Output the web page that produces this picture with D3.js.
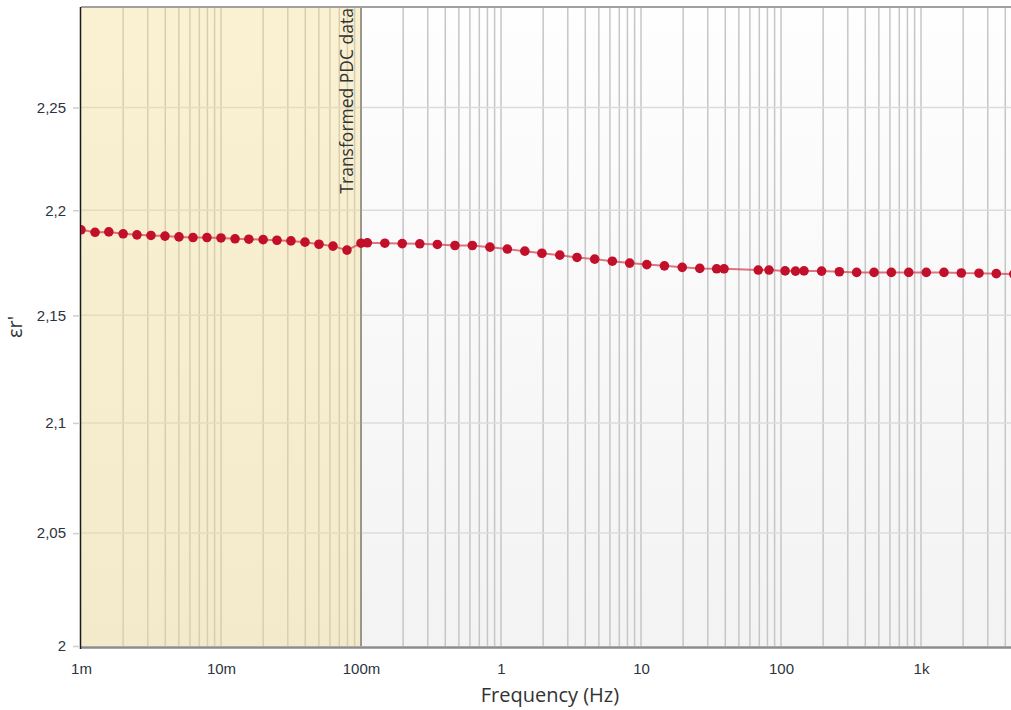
<!DOCTYPE html>
<html>
<head>
<meta charset="utf-8">
<script src="https://cdn.jsdelivr.net/npm/d3@7"></script>
<style>
  html, body { margin: 0; padding: 0; background: #fff; }
  svg { display: block; font-family: "Open Sans", "Noto Sans", sans-serif; }
</style>
</head>
<body>
<svg id="chart" width="1011" height="710"></svg>
<script>
// Transformed PDC points (Hz) and their permittivity
const pdcFreq = [0.001, 0.00126, 0.00158, 0.002, 0.00251, 0.00316, 0.00398, 0.00501, 0.00631, 0.00794,
  0.01, 0.0126, 0.0158, 0.02, 0.0251, 0.0316, 0.0398, 0.0501, 0.0631, 0.0794, 0.1];
const pdcEps = [2.1906, 2.1894, 2.1896, 2.1887, 2.1882, 2.1879, 2.1876, 2.1872, 2.1869, 2.1869,
  2.1867, 2.1863, 2.1861, 2.1859, 2.1856, 2.1853, 2.1847, 2.1837, 2.1828, 2.1809, 2.1842];

// FDS points (Hz) and permittivity
const fdsFreq = [0.111, 0.148, 0.197, 0.263, 0.351, 0.469, 0.624, 0.834, 1.11, 1.48, 1.96, 2.63, 3.49,
  4.67, 6.24, 8.3, 11.0, 14.7, 19.7, 26.3, 34.7, 39.2, 68.8, 82.1, 107, 127, 146, 195, 261, 347, 462,
  614, 817, 1091, 1459, 1941, 2596, 3451, 4600];
const fdsEps = [2.1844, 2.1842, 2.1840, 2.1839, 2.1836, 2.1831, 2.1831, 2.1823, 2.1814, 2.1804, 2.1794,
  2.1785, 2.1774, 2.1766, 2.1756, 2.1747, 2.1740, 2.1734, 2.1727, 2.1722, 2.1720, 2.1720, 2.1714,
  2.1714, 2.1710, 2.1709, 2.1710, 2.1709, 2.1706, 2.1703, 2.1703, 2.1703, 2.1703, 2.1703, 2.1703,
  2.1700, 2.1699, 2.1697, 2.1695];

const xDomain = [0.001, 5000];
const yDomain = [2, 2.3];
const yTicks = [2, 2.05, 2.1, 2.15, 2.2, 2.25];
const xTicks = [0.001, 0.01, 0.1, 1, 10, 100, 1000];
const xTickLabels = ['1m', '10m', '100m', '1', '10', '100', '1k'];
const pdcEnd = 0.1;
const regionLabel = 'Transformed PDC data';

const margin = {left: 81, top: 7, bottom: 646};
const svg = d3.select('#chart');

const x = d3.scaleLog().domain(xDomain).range([margin.left, margin.left + 140 * Math.log10(xDomain[1] / xDomain[0])]);
const y = d3.scaleLog().domain(yDomain).range([margin.bottom, margin.top]);
const [x0, x1] = x.range();
const [yb, yt] = y.range();

const defs = svg.append('defs');
const bg = defs.append('linearGradient').attr('id', 'bg').attr('x1', 0).attr('x2', 0).attr('y1', 0).attr('y2', 1);
bg.append('stop').attr('offset', '0%').attr('stop-color', '#fefefe');
bg.append('stop').attr('offset', '100%').attr('stop-color', '#f3f3f3');
defs.append('clipPath').attr('id', 'plot')
  .append('rect').attr('x', x0).attr('y', yt).attr('width', x1 - x0).attr('height', yb - yt);

svg.append('rect').attr('x', x0).attr('y', yt).attr('width', x1 - x0).attr('height', yb - yt)
  .attr('fill', 'url(#bg)');

// minor + major vertical grid, every 1..9 x decade
const grid = svg.append('g').attr('clip-path', 'url(#plot)');
const vLines = [];
for (let e = -3; e <= 3; e++) {
  for (let m = 1; m <= 9; m++) {
    const f = m * Math.pow(10, e);
    if (f > xDomain[0] && f <= xDomain[1]) vLines.push(f);
  }
}
grid.selectAll('line.v').data(vLines).join('line').attr('class', 'v')
  .attr('x1', d => x(d)).attr('x2', d => x(d)).attr('y1', yt).attr('y2', yb)
  .attr('stroke', '#c6c6c6').attr('stroke-width', 1.5);
grid.selectAll('line.h').data(yTicks.slice(1)).join('line').attr('class', 'h')
  .attr('x1', x0).attr('x2', x1).attr('y1', d => y(d)).attr('y2', d => y(d))
  .attr('stroke', '#dcdcdc').attr('stroke-width', 1.5);

// PDC region overlay
svg.append('rect').attr('x', x0).attr('y', yt).attr('width', x(pdcEnd) - x0).attr('height', yb - yt)
  .attr('fill', 'rgb(243,222,140)').attr('opacity', 0.38);
svg.append('line').attr('x1', x(pdcEnd)).attr('x2', x(pdcEnd)).attr('y1', yt).attr('y2', yb)
  .attr('stroke', '#5a5a50').attr('stroke-width', 1);
svg.append('text').attr('transform', `translate(${x(pdcEnd) - 8},${yt + 1}) rotate(-90)`)
  .attr('text-anchor', 'end').attr('font-size', 17.5).attr('fill', '#333')
  .text(regionLabel);

// borders
svg.append('line').attr('x1', x0).attr('x2', x1).attr('y1', yt).attr('y2', yt)
  .attr('stroke', '#a0a0a0').attr('stroke-width', 2);
svg.append('line').attr('x1', x0).attr('x2', x1).attr('y1', yb + 1.5).attr('y2', yb + 1.5)
  .attr('stroke', '#8c8c8c').attr('stroke-width', 2.5);
svg.append('line').attr('x1', x0 - 0.5).attr('x2', x0 - 0.5).attr('y1', yt).attr('y2', yb + 3)
  .attr('stroke', '#1a1a1a').attr('stroke-width', 1.5);

// axes
const fmt = d3.formatLocale({decimal: ',', thousands: '.', grouping: [3], currency: ['', '']}).format('~g');
const yAxis = svg.append('g').attr('transform', `translate(${x0 - 1},0)`)
  .call(d3.axisLeft(y).tickValues(yTicks).tickFormat(fmt).tickSize(7).tickPadding(7));
yAxis.select('.domain').remove();
yAxis.selectAll('.tick line').attr('stroke', '#cfcfcf').attr('stroke-width', 1.5);
yAxis.selectAll('.tick text').attr('font-size', 15).attr('fill', '#2b3340').attr('font-family', null);

const xAxis = svg.append('g').attr('transform', `translate(0,${yb + 3})`)
  .call(d3.axisBottom(x).tickValues(xTicks).tickFormat((d, i) => xTickLabels[i]).tickSize(0).tickPadding(14));
xAxis.select('.domain').remove();
xAxis.selectAll('.tick text').attr('font-size', 15).attr('fill', '#2b3340').attr('font-family', null);

svg.append('text').attr('x', (x0 + x1) / 2).attr('y', 702).attr('text-anchor', 'middle')
  .attr('font-size', 20).attr('fill', '#333').text('Frequency (Hz)');
svg.append('text').attr('transform', `translate(22,327) rotate(-90)`).attr('text-anchor', 'middle')
  .attr('font-size', 20).attr('fill', '#333').text('εr\'');

// series
const points = pdcFreq.map((f, i) => ({f, v: pdcEps[i]}))
  .concat(fdsFreq.map((f, i) => ({f, v: fdsEps[i]})));
const series = svg.append('g').attr('clip-path', 'url(#plot)');
series.append('path').datum(points)
  .attr('d', d3.line().x(d => x(d.f)).y(d => y(d.v)))
  .attr('fill', 'none').attr('stroke', '#d23a50').attr('stroke-opacity', 0.7).attr('stroke-width', 2);
series.selectAll('circle').data(points).join('circle')
  .attr('cx', d => x(d.f)).attr('cy', d => y(d.v)).attr('r', 4.8)
  .attr('fill', '#c20f2a');
</script>
</body>
</html>
